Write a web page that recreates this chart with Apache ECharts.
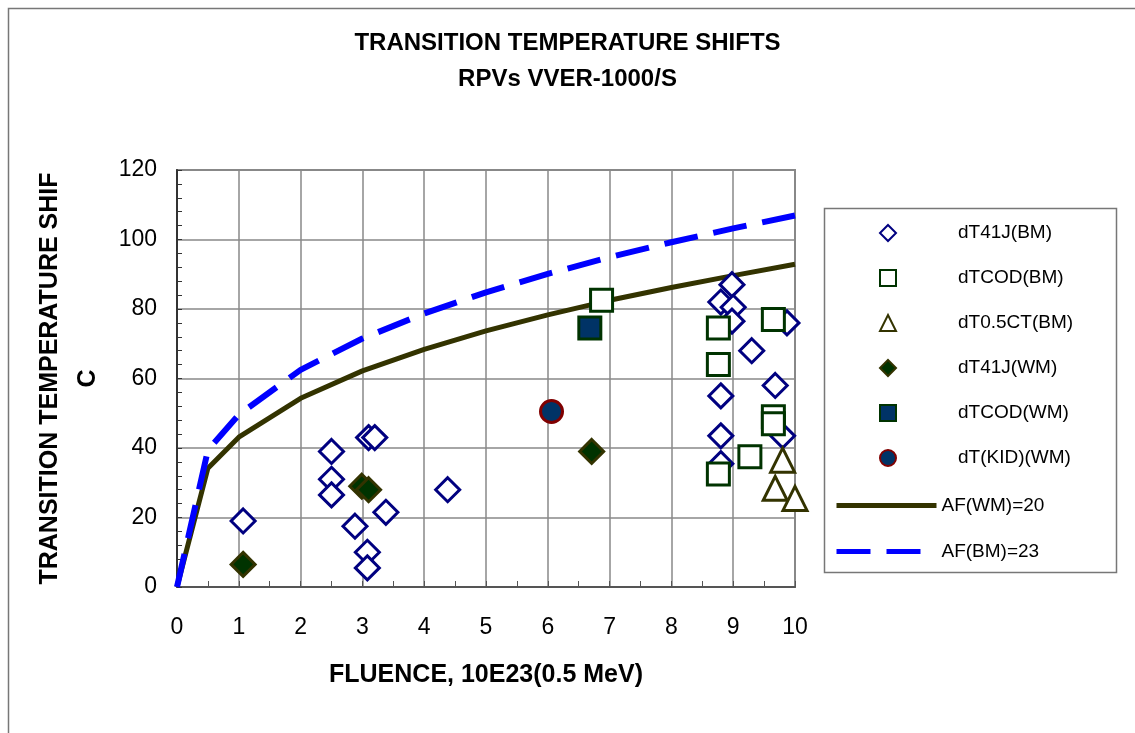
<!DOCTYPE html>
<html>
<head>
<meta charset="utf-8">
<script src="https://cdn.jsdelivr.net/npm/echarts@6/dist/echarts.min.js"></script>
<style>html,body{margin:0;padding:0;background:#fff}#c{width:1135px;height:733px}</style>
</head>
<body>
<div id="c"></div>
<script>
var titleLines = ['TRANSITION TEMPERATURE SHIFTS', 'RPVs VVER-1000/S'];
var xAxisName = 'FLUENCE, 10E23(0.5 MeV)';
var yAxisName = 'TRANSITION TEMPERATURE SHIF\nC';
var seriesNames = ['dT41J(BM)', 'dTCOD(BM)', 'dT0.5CT(BM)', 'dT41J(WM)', 'dTCOD(WM)', 'dT(KID)(WM)', 'AF(WM)=20', 'AF(BM)=23'];

var dT41J_BM = [[1.07,19],[2.5,39],[2.5,31],[2.5,26.5],[3.1,43],[3.2,43],[2.88,17.5],[3.38,21.5],[3.08,10],[3.08,5.5],[4.38,28],
  [8.98,87],[8.8,82],[9.0,80.5],[8.98,76.5],[9.87,76],[9.3,68],[9.68,58],[8.8,55],[8.8,43.5],[9.8,43.5],[8.8,35.5]];
var dTCOD_BM = [[6.87,82.5],[8.76,74.5],[9.65,77],[8.76,64],[9.65,49],[9.65,47],[9.27,37.5],[8.76,32.5]];
var dT05CT_BM = [[9.8,36.5],[9.68,28.4],[10.0,25.5]];
var dT41J_WM = [[1.07,6.5],[2.99,29],[3.1,28],[6.71,39]];
var dTCOD_WM = [[6.68,74.5]];
var dTKID_WM = [[6.06,50.5]];
var af_WM20 = [[0,0],[0.5,34.2],[1,43.1],[2,54.3],[3,62.2],[4,68.4],[5,73.7],[6,78.3],[7,82.5],[8,86.2],[9,89.6],[10,92.9]];
var af_BM23 = [[0,0],[0.5,39.4],[1,49.6],[2,62.5],[3,71.5],[4,78.7],[5,84.8],[6,90.1],[7,94.9],[8,99.2],[9,103.2],[10,106.9]];

var FONT = 'Liberation Sans, Arial, sans-serif';
var chart = echarts.init(document.getElementById('c'));

function scatter(name, data, symbol, fill, stroke, size) {
  return {
    name: name, type: 'scatter', data: data, symbol: symbol, symbolSize: size, z: 3,
    itemStyle: { color: fill, borderColor: stroke, borderWidth: 3, opacity: 1 },
    emphasis: { disabled: true }
  };
}

var legendNamesMarker = seriesNames.slice(0, 6);
var legendNamesLine = seriesNames.slice(6);

chart.setOption({
  animation: false,
  backgroundColor: '#fff',
  title: [
    { text: titleLines[0], left: 'center', top: 26, textStyle: { fontFamily: FONT, fontSize: 24, fontWeight: 'bold', color: '#000' } },
    { text: titleLines[1], left: 'center', top: 62, textStyle: { fontFamily: FONT, fontSize: 24, fontWeight: 'bold', color: '#000' } }
  ],
  graphic: [
    { type: 'rect', shape: { x: 8.5, y: 8.5, width: 1200, height: 800 }, style: { fill: 'none', stroke: '#777', lineWidth: 1.5 }, silent: true },
    { type: 'rect', shape: { x: 824.5, y: 208.5, width: 292, height: 364 }, style: { fill: '#fff', stroke: '#777', lineWidth: 1.5 }, silent: true, z: -1 }
  ],
  legend: [
    {
      data: legendNamesMarker, orient: 'vertical', left: 874, top: 218.5,
      itemWidth: 16, itemHeight: 16, itemGap: 26,
      textStyle: { fontFamily: FONT, fontSize: 19, color: '#000', padding: [0, 0, 0, 57] },
      selectedMode: false
    },
    {
      data: legendNamesLine, orient: 'vertical', left: 829, top: 491,
      itemWidth: 100, itemHeight: 14, itemGap: 27,
      itemStyle: { opacity: 0 },
      lineStyle: { width: 5 },
      textStyle: { fontFamily: FONT, fontSize: 19, color: '#000', padding: [0, 0, 0, 0] },
      selectedMode: false
    }
  ],
  grid: { left: 177, top: 170, right: 340, bottom: 146, show: true, borderColor: '#888', borderWidth: 2, backgroundColor: '#fff' },
  xAxis: {
    type: 'value', min: 0, max: 10, interval: 1,
    name: xAxisName, nameLocation: 'middle', nameGap: 76,
    nameTextStyle: { fontFamily: FONT, fontSize: 25, fontWeight: 'bold', color: '#000' },
    axisLine: { show: true, onZero: false, lineStyle: { color: '#555', width: 2 } },
    axisTick: { show: true, inside: true, length: 6, lineStyle: { color: '#555', width: 1 } },
    minorTick: { show: true, splitNumber: 2, length: 6, lineStyle: { color: '#555', width: 1 } },
    axisLabel: { fontFamily: FONT, fontSize: 23, color: '#000', margin: 29 },
    splitLine: { show: true, lineStyle: { color: '#888', width: 1.5 } }
  },
  yAxis: {
    type: 'value', min: 0, max: 120, interval: 20,
    name: yAxisName, nameLocation: 'middle', nameGap: 70, nameRotate: 90,
    nameTextStyle: { fontFamily: FONT, fontSize: 25, fontWeight: 'bold', color: '#000', lineHeight: 38, align: 'center' },
    axisLine: { show: true, onZero: false, lineStyle: { color: '#333', width: 2 } },
    axisTick: { show: true, inside: true, length: 5, lineStyle: { color: '#333', width: 1 } },
    minorTick: { show: true, splitNumber: 5, length: 5, lineStyle: { color: '#333', width: 1 } },
    axisLabel: { fontFamily: FONT, fontSize: 23, color: '#000', margin: 20 },
    splitLine: { show: true, lineStyle: { color: '#888', width: 1.5 } }
  },
  series: [
    scatter(seriesNames[0], dT41J_BM, 'diamond', '#fff', '#000080', 24),
    scatter(seriesNames[1], dTCOD_BM, 'rect', '#fff', '#003300', 22),
    scatter(seriesNames[2], dT05CT_BM, 'triangle', '#fff', '#333300', 24),
    scatter(seriesNames[3], dT41J_WM, 'diamond', '#003300', '#333300', 24),
    scatter(seriesNames[4], dTCOD_WM, 'rect', '#003366', '#003300', 22),
    scatter(seriesNames[5], dTKID_WM, 'circle', '#003366', '#800000', 22),
    {
      name: seriesNames[6], type: 'line', data: af_WM20, symbol: 'none', z: 1,
      lineStyle: { color: '#333300', width: 5 }, itemStyle: { color: '#333300' }
    },
    {
      name: seriesNames[7], type: 'line', data: af_BM23, symbol: 'none', z: 1,
      lineStyle: { color: '#0000ff', width: 6, type: [34, 16] }, itemStyle: { color: '#0000ff' }
    }
  ]
});
</script>
</body>
</html>
